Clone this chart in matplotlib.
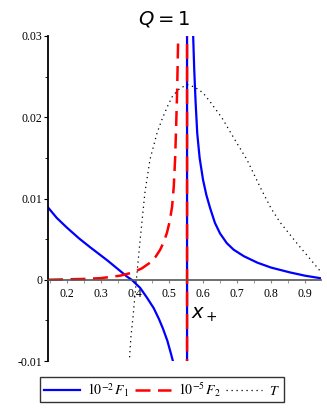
import matplotlib
matplotlib.use("Agg")
import matplotlib.pyplot as plt
from matplotlib.ticker import MultipleLocator, FixedLocator

plt.rcParams['font.family'] = ['Liberation Serif', 'DejaVu Serif']
plt.rcParams['mathtext.fontset'] = 'stix'

# pole position x_+
x_plus = 0.553

# 10^-2 F1 : left branch, jump at the pole, right branch
f1_x = [0.144, 0.17, 0.20, 0.235, 0.268, 0.318, 0.35, 0.376, 0.39, 0.415, 0.435,
        0.455, 0.47, 0.482, 0.495, 0.505, 0.512, 0.52,
        x_plus, x_plus,
        0.571, 0.574, 0.578, 0.583, 0.590, 0.600, 0.610, 0.621, 0.635, 0.650,
        0.670, 0.690, 0.72, 0.76, 0.80, 0.856, 0.90, 0.944]
f1_y = [0.0089, 0.0076, 0.0064, 0.0051, 0.0040, 0.0024, 0.0013, 0.0004, 0.0, -0.0010, -0.0022,
        -0.0035, -0.0048, -0.0060, -0.0075, -0.0090, -0.0101, -0.0125,
        -1.0, 1.0,
        0.030, 0.026, 0.022, 0.018, 0.0150, 0.0123, 0.0104, 0.0088, 0.0070, 0.0057,
        0.0045, 0.0037, 0.0029, 0.0021, 0.0015, 0.0009, 0.0005, 0.0002]

# 10^-5 F2
f2_x = [0.144, 0.25, 0.30, 0.356, 0.394, 0.42, 0.444, 0.46, 0.474, 0.485, 0.494,
        0.502, 0.509, 0.514, 0.518, 0.521, 0.524, 0.527, 0.53,
        x_plus, x_plus]
f2_y = [0.0, 0.0001, 0.0002, 0.0005, 0.0009, 0.0014, 0.0021, 0.0028, 0.0037, 0.0047, 0.0058,
        0.0072, 0.009, 0.0115, 0.015, 0.019, 0.0235, 0.030, 0.04,
        1.0, -1.0]

# T
t_x = [0.380, 0.388, 0.394, 0.400, 0.406, 0.415, 0.429, 0.444, 0.465, 0.479, 0.495,
       0.509, 0.525, 0.538, 0.556, 0.576, 0.600, 0.621, 0.656, 0.694, 0.729, 0.768,
       0.800, 0.826, 0.876, 0.910, 0.944]
t_y = [-0.012, -0.007, -0.0046, -0.0018, 0.0009, 0.0049, 0.0107, 0.0148, 0.0181, 0.0197, 0.0213,
       0.0225, 0.0233, 0.0237, 0.0240, 0.0237, 0.0230, 0.0219, 0.0199, 0.0172, 0.0148, 0.0114,
       0.0088, 0.0071, 0.0045, 0.0028, 0.0011]

y_ticks = [-0.01, 0.0, 0.01, 0.02, 0.03]
y_labels = ['-0.01', '0', '0.01', '0.02', '0.03']
x_ticks = [0.2, 0.3, 0.4, 0.5, 0.6, 0.7, 0.8, 0.9]

fig = plt.figure(figsize=(3.27, 4.11), dpi=100)
ax = fig.add_axes([48 / 327, 50 / 411, (321 - 48) / 327, (361 - 36) / 411])

ax.plot(f1_x, f1_y, color='#0000ff', lw=1.6, label=r'$10^{-2}\,F_1$')
ax.plot(f2_x, f2_y, color='#ff0000', lw=1.8, dashes=(6, 3), label=r'$10^{-5}\,F_2$')
ax.plot(t_x, t_y, color='black', lw=0.9, ls=(0, (1, 3)), label=r'$T$')

ax.set_xlim(0.144, 0.947)
ax.set_ylim(-0.01, 0.03)

for s in ['top', 'right']:
    ax.spines[s].set_visible(False)
ax.spines['bottom'].set_position(('data', 0))
ax.spines['bottom'].set_color('#555555')
ax.spines['bottom'].set_linewidth(1.2)
ax.spines['left'].set_linewidth(1.3)

ax.yaxis.set_major_locator(FixedLocator(y_ticks))
ax.set_yticklabels(y_labels)
ax.yaxis.set_minor_locator(MultipleLocator(0.005))
ax.xaxis.set_major_locator(FixedLocator(x_ticks))
ax.xaxis.set_minor_locator(MultipleLocator(0.05))
ax.tick_params(axis='y', which='major', length=3, labelsize=8.5, pad=1)
ax.tick_params(axis='y', which='minor', length=2)
ax.tick_params(axis='x', which='both', length=2, color='#888888', labelsize=8.5, pad=4)

fig.text(0.5, 1 - 19 / 411, r'$Q=1$', ha='center', va='center', fontsize=14,
         math_fontfamily='dejavusans')
ax.text(x_plus + 0.012, -0.0043, r'$x_+$', ha='left', va='center', fontsize=14,
        math_fontfamily='dejavusans')

fig.legend(loc='lower center', bbox_to_anchor=(162 / 327, 9 / 411), ncol=3,
           fontsize=10, frameon=True, fancybox=False, edgecolor='black',
           handlelength=2.6, handletextpad=0.5, columnspacing=0.4,
           borderpad=0.25, borderaxespad=0)

fig.savefig('out.png', dpi=100)
